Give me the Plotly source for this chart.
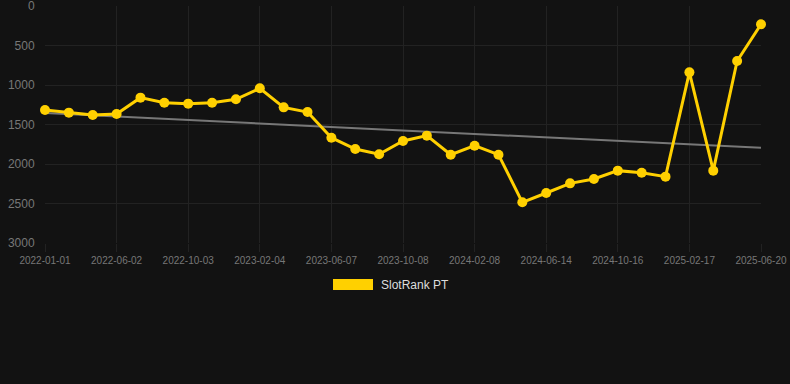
import numpy as np
import plotly.graph_objects as go

dates = [
    "2022-01-01", "2022-02-20", "2022-04-11", "2022-06-02", "2022-07-13", "2022-08-23",
    "2022-10-03", "2022-11-13", "2022-12-25", "2023-02-04", "2023-03-17", "2023-04-27",
    "2023-06-07", "2023-07-18", "2023-08-28", "2023-10-08", "2023-11-18", "2023-12-29",
    "2024-02-08", "2024-03-20", "2024-05-02", "2024-06-14", "2024-07-25", "2024-09-05",
    "2024-10-16", "2024-11-26", "2025-01-07", "2025-02-17", "2025-03-30", "2025-05-10",
    "2025-06-20",
]
rank_pt = [
    1316, 1350, 1380, 1367, 1160, 1224, 1236, 1224, 1181, 1042, 1283, 1342,
    1667, 1810, 1877, 1709, 1641, 1882, 1768, 1882, 2485, 2367, 2245, 2190,
    2084, 2110, 2160, 840, 2084, 696, 232,
]
tick_labels = dates[::3]
y_ticks = [0, 500, 1000, 1500, 2000, 2500, 3000]
series_name = "SlotRank PT"

BG = "#121212"
GRID = "#222222"
GOLD = "#FFD000"
TXT = "#777777"

# linear trend through the series
idx = np.arange(len(rank_pt))
slope, intercept = np.polyfit(idx, rank_pt, 1)
trend = slope * idx + intercept

fig = go.Figure()
fig.add_trace(go.Scatter(
    x=dates, y=trend, mode="lines",
    line=dict(color="#777777", width=2), hoverinfo="skip", showlegend=False,
))
fig.add_trace(go.Scatter(
    x=dates, y=rank_pt, mode="lines+markers", name=series_name,
    line=dict(color=GOLD, width=3), marker=dict(color=GOLD, size=10),
    showlegend=False, cliponaxis=False,
))

fig.update_layout(
    width=790, height=384,
    paper_bgcolor=BG, plot_bgcolor=BG,
    margin=dict(l=45, r=29, t=6, b=141, autoexpand=False),
    font=dict(family="Liberation Sans, Arial, sans-serif", color=TXT),
    xaxis=dict(
        type="category", tickmode="array", tickvals=tick_labels, ticktext=tick_labels,
        showgrid=True, gridcolor=GRID, gridwidth=1,
        ticks="outside", ticklen=8, tickcolor=GRID,
        tickfont=dict(size=10, color=TXT),
        zeroline=False, showline=False, range=[0, len(dates) - 1],
        tickangle=0, automargin=False, ticklabeloverflow="allow",
    ),
    yaxis=dict(
        range=[3000, 0], tickmode="array", tickvals=y_ticks,
        showgrid=True, gridcolor=GRID, gridwidth=1,
        ticks="outside", ticklen=7, tickcolor=BG,
        tickfont=dict(size=12, color=TXT),
        zeroline=False, showline=False, automargin=False,
        ticklabeloverflow="allow",
    ),
    shapes=[dict(
        type="rect", xref="paper", yref="paper",
        x0=(333 - 45) / 716, x1=(373 - 45) / 716,
        y0=(243 - 290) / 237, y1=(243 - 279) / 237,
        fillcolor=GOLD, line=dict(width=0),
    )],
    annotations=[dict(
        text=series_name, xref="paper", yref="paper",
        x=(379 - 45) / 716, y=(243 - 285) / 237,
        xanchor="left", yanchor="middle", showarrow=False,
        font=dict(size=12, color="#dddddd"),
    )],
)

fig.write_html(
    "out.html",
    config={"displayModeBar": False},
    post_script="document.body.style.margin='0';document.body.style.background='#121212';",
)
